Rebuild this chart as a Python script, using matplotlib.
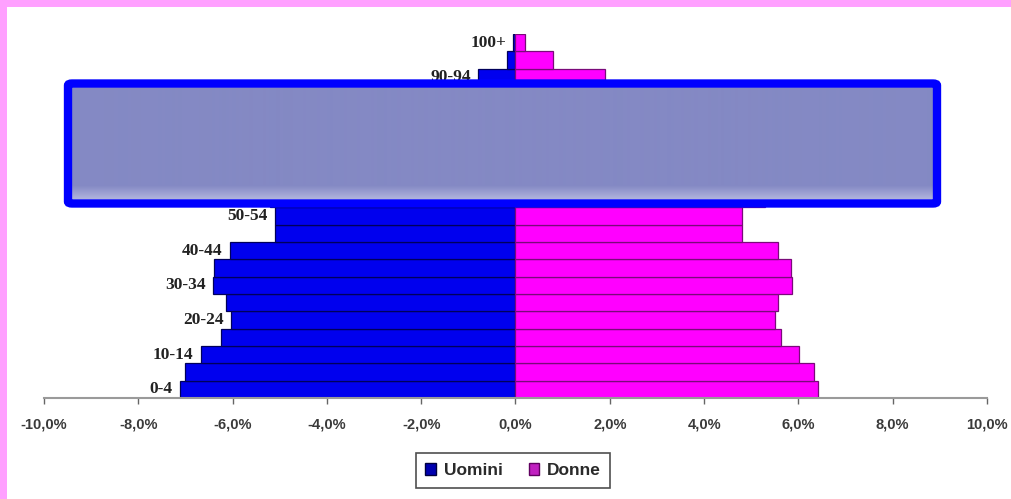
import numpy as np
import matplotlib
matplotlib.use("Agg")
import matplotlib.pyplot as plt
from matplotlib.patches import FancyBboxPatch, Rectangle, Patch
from matplotlib.ticker import FuncFormatter

# Age classes, youngest first
age_groups = ["0-4", "5-9", "10-14", "15-19", "20-24", "25-29", "30-34",
              "35-39", "40-44", "45-49", "50-54", "55-59", "60-64", "65-69",
              "70-74", "75-79", "80-84", "85-89", "90-94", "95-99", "100+"]

# Share of total population (%), men shown on the left
uomini = [7.12, 7.01, 6.68, 6.25, 6.03, 6.14, 6.41, 6.39, 6.06, 5.10, 5.10,
          5.20, 4.60, 4.30, 3.60, 2.70, 1.70, 1.20, 0.79, 0.17, 0.05]
donne = [6.42, 6.34, 6.02, 5.64, 5.50, 5.57, 5.87, 5.84, 5.56, 4.81, 4.81,
         5.29, 4.90, 4.80, 4.40, 3.80, 3.00, 2.60, 1.89, 0.80, 0.20]

x_ticks = [-10, -8, -6, -4, -2, 0, 2, 4, 6, 8, 10]

W, H = 1012, 499
fig = plt.figure(figsize=(W / 100, H / 100), dpi=100)
fig.patch.set_facecolor("white")

# pink frame along top and left edges
fig.add_artist(Rectangle((0, 1 - 7 / H), 1, 7 / H, transform=fig.transFigure,
                         facecolor="#FFA0FF", edgecolor="none", zorder=0))
fig.add_artist(Rectangle((0, 0), 7 / W, 1, transform=fig.transFigure,
                         facecolor="#FFA0FF", edgecolor="none", zorder=0))

ax = fig.add_axes([44 / W, (H - 398) / H, 943 / W, 364 / H])

y = np.arange(len(age_groups))
male = -np.array(uomini)
female = np.array(donne)

ax.barh(y, male, height=1.0, color="#0000EE", edgecolor="#00005A", linewidth=0.9)
ax.barh(y, female, height=1.0, color="#FF00FF", edgecolor="#7A0A7A", linewidth=0.9)

# age labels on every other class, just left of the men's bar
for i in range(0, len(age_groups), 2):
    ax.annotate(age_groups[i], xy=(male[i], y[i]), xytext=(-5, 0),
                textcoords="offset points", ha="right", va="center",
                fontsize=12.5, fontweight="bold", family="Liberation Serif",
                color="#222222")

ax.set_xlim(-10, 10)
ax.set_ylim(-0.5, len(age_groups) - 0.5)
ax.set_xticks(x_ticks)
ax.xaxis.set_major_formatter(FuncFormatter(lambda v, p: f"{v:.1f}%".replace(".", ",")))
ax.set_yticks([])
for s in ["top", "right", "left"]:
    ax.spines[s].set_visible(False)
ax.spines["bottom"].set_color("#9A9A9A")
ax.spines["bottom"].set_linewidth(1.5)
ax.tick_params(axis="x", direction="out", length=4, width=1, color="#666666",
               pad=10, labelsize=10.5, labelcolor="#3A3A3A")
for lab in ax.get_xticklabels():
    lab.set_family("Liberation Sans")
    lab.set_fontweight("bold")

# legend below the axis
handles = [Patch(facecolor="#0000B0", edgecolor="#000040", label="Uomini"),
           Patch(facecolor="#C020C0", edgecolor="#600060", label="Donne")]
leg = fig.legend(handles=handles, loc="center", bbox_to_anchor=(513 / W, (H - 470.5) / H),
                 ncol=2, frameon=True, fancybox=False,
                 prop={"family": "Liberation Sans", "weight": "bold", "size": 12.5},
                 handlelength=0.6, handleheight=0.7, handletextpad=0.45,
                 columnspacing=1.5, borderpad=0.55, borderaxespad=0)
leg.get_frame().set_edgecolor("#222222")
leg.get_frame().set_linewidth(1.2)
for t in leg.get_texts():
    t.set_color("#2A2A2A")

# banner panel laid over the upper part of the chart
x0, x1, y0, y1 = 71, 934, 87, 200
pan = fig.add_axes([x0 / W, (H - y1) / H, (x1 - x0) / W, (y1 - y0) / H])
pan.set_axis_off()
rows = y1 - y0
top_c = np.array([132, 137, 196]) / 255
bot_c = np.array([178, 182, 222]) / 255
t = np.zeros(rows)
start = rows - 15
t[start:] = np.linspace(0, 1, rows - start)
grad = top_c[None, :] * (1 - t[:, None]) + bot_c[None, :] * t[:, None]
pan.imshow(grad[:, None, :], aspect="auto", extent=[0, 1, 0, 1], interpolation="bilinear")
pan.set_xlim(0, 1)
pan.set_ylim(0, 1)

fig.add_artist(FancyBboxPatch(((64 + 4) / W, (H - 203.5) / H),
                              (941 - 64 - 8) / W, (203.5 - 83.5) / H,
                              boxstyle="round,pad=0,rounding_size=0.004",
                              transform=fig.transFigure, facecolor="none",
                              edgecolor="#0000FF", linewidth=6, zorder=10))

fig.savefig("out.png", dpi=100)
